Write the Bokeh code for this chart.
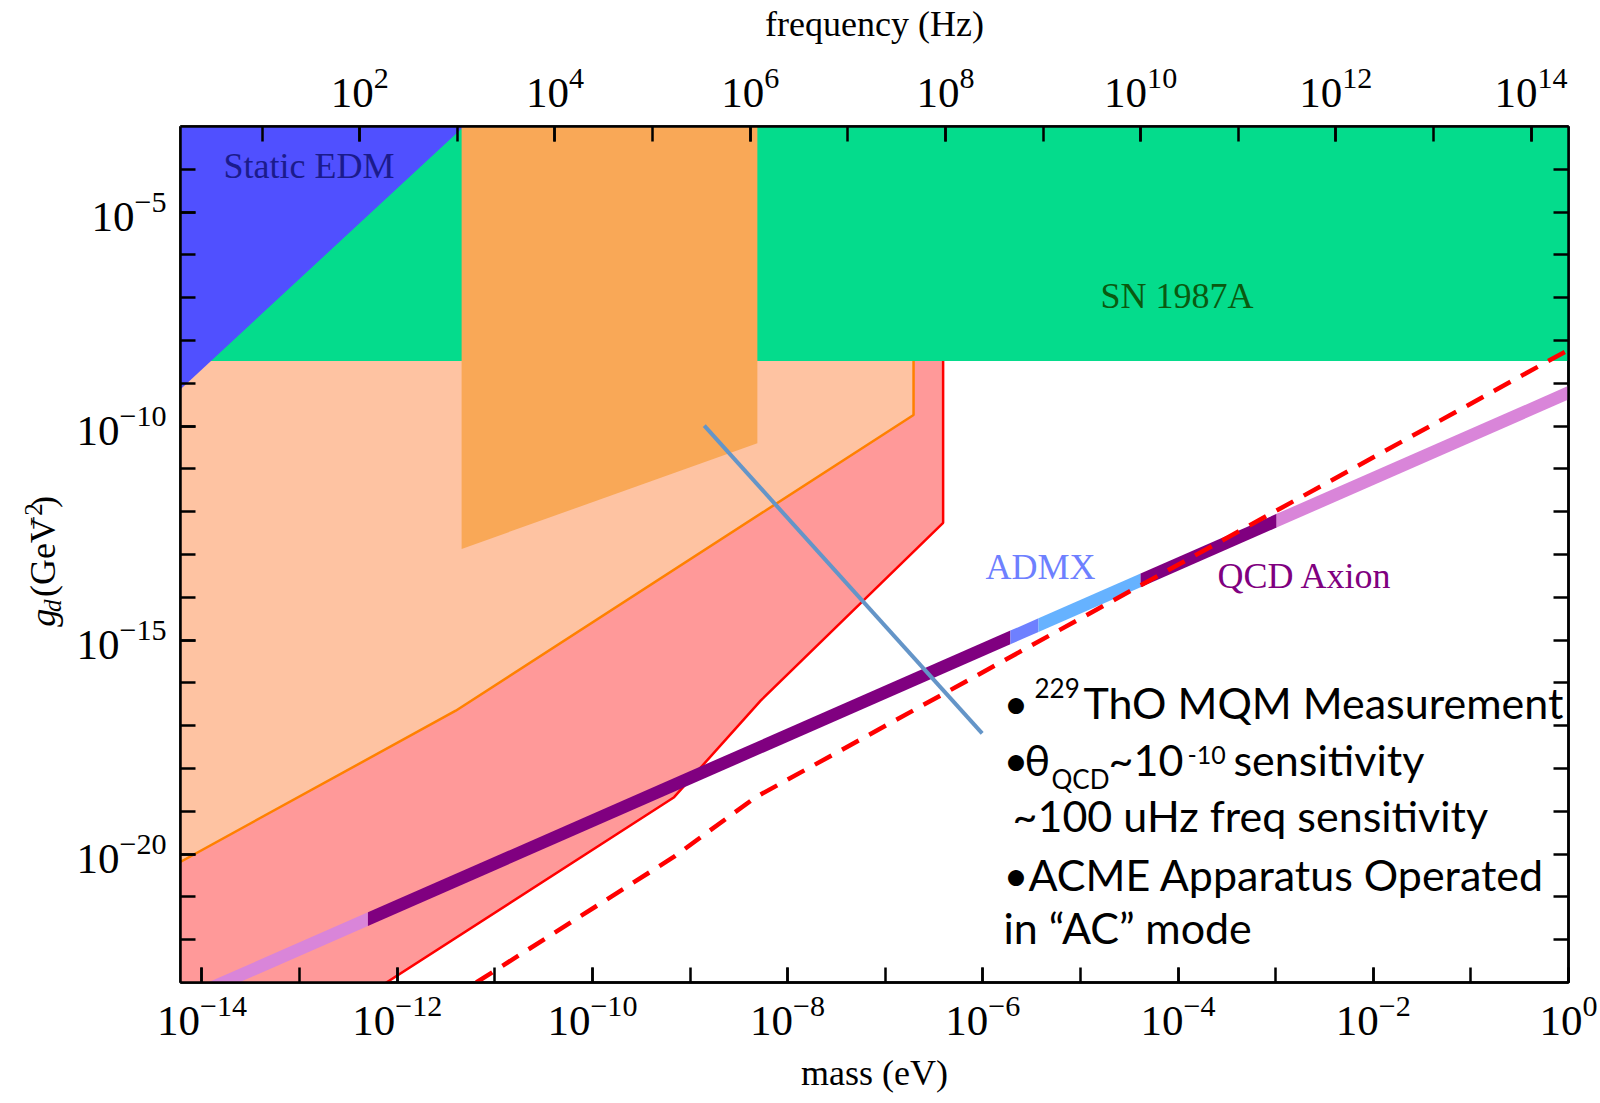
import numpy as np
from bokeh.plotting import figure
from bokeh.layouts import row
from bokeh.models import Range1d, LogScale, LogAxis, FixedTicker, Label, ColumnDataSource
from bokeh.core.properties import value
from bokeh.embed import file_html
from bokeh.resources import INLINE

# ---------------- axes (log10 values) ----------------
mass_range = [-14.22, 0.0]          # log10(mass / eV)
g_range = [-23.0, -3.0]             # log10(g_d / GeV^-2)
mass_major_exp = [-14, -12, -10, -8, -6, -4, -2, 0]
mass_minor_exp = list(range(-14, 1))
g_major_exp = [-20, -15, -10, -5]
g_minor_exp = list(range(-22, -3))
freq_major_exp = [2, 4, 6, 8, 10, 12, 14]
freq_minor_exp = list(range(1, 15))
planck_ev_s = 4.135667e-15

# ---------------- regions / curves (log10 mass, log10 g) ----------------
edm_edge_m = [-14.5, -11.08]
edm_edge_g = [-9.73, -2.5]
sn_m = [-14.5, 0.5]
sn_g = [-8.48, -2.5]
peach_edge_m = [-14.5, -11.40, -6.71, -6.71]      # orange line
peach_edge_g = [-20.53, -16.65, -9.74, -2.5]
red_edge_m = [-6.407, -6.407, -8.274, -9.163, -12.45]
red_edge_g = [-2.5, -12.26, -16.41, -18.67, -23.5]
block_m = [-11.34, -8.31, -8.31, -11.34]
block_g = [-2.5, -2.5, -10.40, -12.87]
dashed_m = [-11.19, -9.163, -8.327, 0.0]
dashed_g = [-23.0, -20.06, -18.67, -8.22]
qcd_offset = -9.22          # log10 g = log10 m + offset
qcd_halfwidth = 0.16
qcd_edges = [-14.3, -12.30, -5.718, -5.43, -4.384, -2.99, 0.0]
qcd_colors = ["#D985D9", "#800080", "#6E80FF", "#66B2FF", "#800080", "#D985D9"]
arrow_m = [-8.854, -6.007]
arrow_g = [-9.99, -17.18]

# y-axis label pieces
ylab_text = ["g", "d", "(GeV", "\u22122", ")"]
ylab_style = ["italic", "italic", "normal", "normal", "normal"]

P = lambda a: [10.0 ** v for v in a]

LEFT_W = 70
HEIGHT = 1095
FRAME_LEFT, FRAME_TOP, FRAME_BOTTOM = 180, 126, 982   # page coordinates of the frame

p = figure(width=1600 - LEFT_W, height=HEIGHT, x_axis_type="log", y_axis_type="log",
           x_range=Range1d(10 ** mass_range[0], 10 ** mass_range[1]),
           y_range=Range1d(10 ** g_range[0], 10 ** g_range[1]),
           output_backend="svg", toolbar_location=None,
           min_border_left=FRAME_LEFT - LEFT_W, min_border_right=32,
           min_border_top=FRAME_TOP, min_border_bottom=HEIGHT - FRAME_BOTTOM)
p.styles = {"flex-shrink": "0"}
p.background_fill_color = "white"
p.border_fill_color = "white"
p.xgrid.visible = False
p.ygrid.visible = False
p.outline_line_color = "black"
p.outline_line_width = 2.5

freq_off = -np.log10(planck_ev_s)
p.extra_x_ranges = {"freq": Range1d(10 ** (mass_range[0] + freq_off), 10 ** (mass_range[1] + freq_off))}
p.extra_x_scales = {"freq": LogScale()}

xa = p.xaxis[0]
xa.ticker = FixedTicker(ticks=P(mass_major_exp), minor_ticks=P(mass_minor_exp))
xa.axis_label = "mass (eV)"
ya = p.yaxis[0]
ya.ticker = FixedTicker(ticks=P(g_major_exp), minor_ticks=P(g_minor_exp))

top = LogAxis(x_range_name="freq",
              ticker=FixedTicker(ticks=P(freq_major_exp), minor_ticks=P(freq_minor_exp)),
              axis_label="frequency (Hz)")
p.add_layout(top, "above")
right = LogAxis(ticker=FixedTicker(ticks=[], minor_ticks=P(g_minor_exp)))
p.add_layout(right, "right")

for ax in [xa, ya, top, right]:
    ax.major_tick_in = 15
    ax.major_tick_out = 0
    ax.minor_tick_in = 15
    ax.minor_tick_out = 0
    ax.major_tick_line_width = 2.5
    ax.minor_tick_line_width = 2.5
    ax.axis_line_width = 2.5
    ax.major_tick_line_color = "black"
    ax.minor_tick_line_color = "black"
    ax.axis_line_color = "black"
    ax.major_label_text_font = "Liberation Serif"
    ax.axis_label_text_font = "Liberation Serif"
    ax.axis_label_text_font_style = "normal"
    ax.axis_label_text_font_size = "36px"
    ax.axis_label_text_color = "black"
    ax.major_label_text_color = "black"
    ax.major_label_text_font_size = "43px"
    ax.major_label_standoff = 14
top.major_label_standoff = 20
xa.axis_label_standoff = 15
top.axis_label_standoff = 22

# ---------------- regions ----------------
pink_m = red_edge_m + [sn_m[0], sn_m[0]]
pink_g = red_edge_g + [red_edge_g[-1], red_edge_g[0]]
p.patch(P(pink_m), P(pink_g), fill_color="#FF9999", line_color=None)

peach_m = peach_edge_m + [peach_edge_m[0]]
peach_g = peach_edge_g + [peach_edge_g[-1]]
p.patch(P(peach_m), P(peach_g), fill_color="#FEC3A2", line_color=None)

p.line(P(peach_edge_m), P(peach_edge_g), line_color="#FF8000", line_width=2.5)
p.line(P(red_edge_m), P(red_edge_g), line_color="#FF0000", line_width=2.5)

p.patch(P([sn_m[0], sn_m[1], sn_m[1], sn_m[0]]), P([sn_g[0], sn_g[0], sn_g[1], sn_g[1]]),
        fill_color="#04DC8C", line_color=None)

edm_m = edm_edge_m + [edm_edge_m[0]]
edm_g = edm_edge_g + [edm_edge_g[1]]
p.patch(P(edm_m), P(edm_g), fill_color="#5050FF", line_color=None)

p.patch(P(block_m), P(block_g), fill_color="#F9A857", line_color=None)

# QCD axion band
for i, col in enumerate(qcd_colors):
    xs = np.array([qcd_edges[i], qcd_edges[i + 1]])
    c = xs + qcd_offset
    p.varea(x=10 ** xs, y1=10 ** (c - qcd_halfwidth), y2=10 ** (c + qcd_halfwidth), fill_color=col)

p.line(P(dashed_m), P(dashed_g), line_color="#FF0000", line_width=4.5, line_dash="19 12")
p.line(P(arrow_m), P(arrow_g), line_color="#6495C8", line_width=4)

# ---------------- text ----------------
SERIF, SANS = "Liberation Serif", "Lato"
BASE_FIX = {SERIF: 0.33, SANS: 0.42}   # baseline correction (em)

def lab(text, X, Y, size, font=SERIF, color="black", style="normal"):
    Yc = Y - BASE_FIX[font] * size
    p.add_layout(Label(x=X - FRAME_LEFT, y=FRAME_BOTTOM - Yc, x_units="screen", y_units="screen",
                       text=text, text_font=font, text_font_size=f"{size}px", text_color=color,
                       text_font_style=style, text_align="left", text_baseline="alphabetic"))

lab("Static EDM", 223, 177, 36, color="#1B1B8C")
lab("SN 1987A", 1100, 307, 36, color="#0A5A10")
lab("ADMX", 985, 578, 36, color="#6E80FF")
lab("QCD Axion", 1217, 587, 36, color="#800080")

lab("•", 1003, 720, 43, SANS)
lab("229", 1034, 698, 26, SANS)
lab("ThO MQM Measurement", 1083, 720, 43, SANS)
lab("•", 1003, 777, 43, SANS)
lab("θ", 1024, 777, 43, SANS)
lab("QCD", 1051, 789, 26, SANS)
lab("~10", 1108, 777, 43, SANS)
lab("-10", 1187, 765, 25, SANS)
lab("sensitivity", 1233, 777, 43, SANS)
lab("~100 uHz freq sensitivity", 1012, 833, 43, SANS)
lab("•ACME Apparatus Operated", 1003, 892, 43, SANS)
lab("in \u201cAC\u201d mode", 1003, 945, 43, SANS)

# ---------------- rotated y-axis label (separate strip left of the plot) ----------------
yl = figure(width=LEFT_W, height=HEIGHT, x_range=Range1d(0, LEFT_W), y_range=Range1d(0, HEIGHT),
            output_backend="svg", toolbar_location=None, x_axis_location=None, y_axis_location=None,
            min_border_left=0, min_border_right=0, min_border_top=0, min_border_bottom=0)
yl.styles = {"flex-shrink": "0"}
yl.outline_line_color = None
yl.xgrid.visible = False
yl.ygrid.visible = False
yl.background_fill_color = "white"
yl.border_fill_color = "white"
piece_X = [54, 60, 54, 41, 54]          # page x of baseline
piece_Y = [640, 621, 602, 516, 488]     # page y where each piece starts
piece_px = [36, 25, 36, 25, 36]
src = ColumnDataSource(dict(
    x=[xb - BASE_FIX[SERIF] * s for xb, s in zip(piece_X, piece_px)],
    y=[HEIGHT - v for v in piece_Y], text=ylab_text, style=ylab_style,
    size=[f"{s}px" for s in piece_px]))
yl.text(x="x", y="y", text="text", source=src, angle=np.pi / 2,
        text_font=value(SERIF), text_font_size="size", text_font_style="style",
        text_align=value("left"), text_baseline=value("alphabetic"), text_color="black")

layout = row(yl, p, spacing=0)
open("out.html", "w").write(file_html(layout, INLINE))
